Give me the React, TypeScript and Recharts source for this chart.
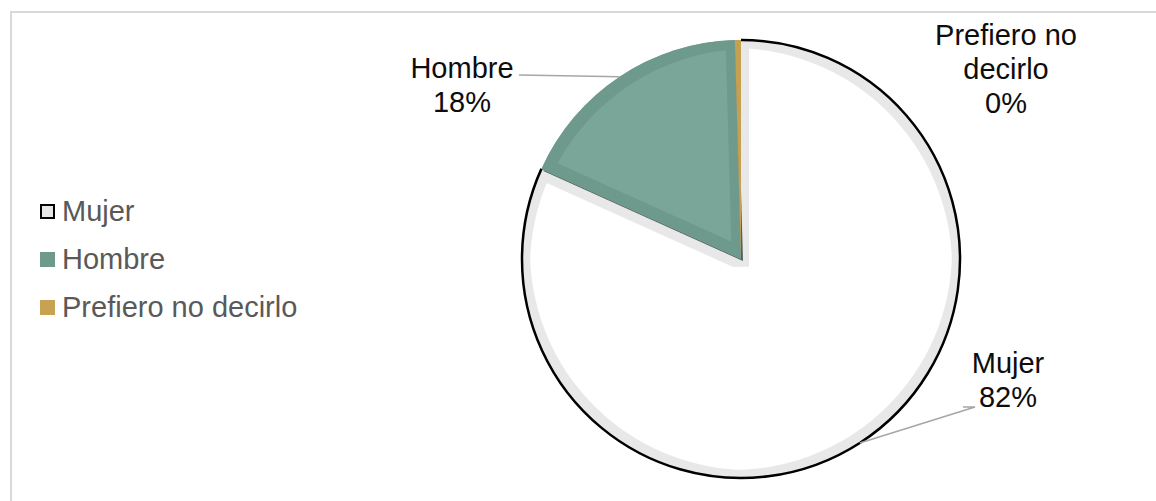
import { PieChart, Pie, Cell, Legend } from "recharts";

const categories = ["Mujer", "Hombre", "Prefiero no decirlo"];
const shares = [81.75, 17.8, 0.45];
const labelLines = [["Mujer"], ["Hombre"], ["Prefiero no", "decirlo"]];

const data = categories.map((name, i) => ({ name, value: shares[i] }));

const fills = ["#ffffff", "#7aa699", "#c5a050"];
const swatches = ["#e6e6e6", "#6e9a8d", "#c8a252"];
const filters = ["url(#bandMujer)", "url(#bandHombre)", undefined];

// label anchor offsets from the pie centre, plus leader line end points
const labelLayout = [
  { dx: 267, dy: 104, leader: [[234, 148], [222, 148]] },
  { dx: -279, dy: -191, leader: [[-222, -184]] },
  { dx: 265, dy: -224, leader: [] as number[][] },
];

const FONT = "'Liberation Sans', Arial, sans-serif";
const RAD = Math.PI / 180;

function renderLabel(props: any) {
  const { cx, cy, outerRadius, midAngle, startAngle, endAngle, percent, index } = props;
  const lay = labelLayout[index];
  const pt = (a: number) => [cx + outerRadius * Math.cos(-a * RAD), cy + outerRadius * Math.sin(-a * RAD)];
  const [ax, ay] = pt(midAngle);
  const lines = [...labelLines[index], `${Math.round(percent * 100)}%`];

  let arc = null;
  if (index === 0) {
    const [sx, sy] = pt(startAngle);
    const [ex, ey] = pt(endAngle);
    const large = Math.abs(startAngle - endAngle) > 180 ? 1 : 0;
    const sweep = startAngle > endAngle ? 1 : 0;
    arc = (
      <path
        d={`M${sx},${sy} A${outerRadius},${outerRadius} 0 ${large} ${sweep} ${ex},${ey}`}
        fill="none"
        stroke="#000"
        strokeWidth={2.5}
      />
    );
  }

  const leader = lay.leader.length
    ? "M" + [[ax - cx, ay - cy], ...lay.leader].map(([x, y]) => `${cx + x},${cy + y}`).join(" L")
    : null;

  return (
    <g>
      {arc}
      {leader && <path d={leader} fill="none" stroke="#a6a6a6" strokeWidth={1.5} />}
      <text
        x={cx + lay.dx}
        y={cy + lay.dy}
        textAnchor="middle"
        fontFamily={FONT}
        fontSize={29}
        fill="#0d0d0d"
      >
        {lines.map((l, i) => (
          <tspan key={i} x={cx + lay.dx} dy={i === 0 ? 10 : 34}>
            {l}
          </tspan>
        ))}
      </text>
    </g>
  );
}

function LegendContent() {
  return (
    <div style={{ fontFamily: FONT, fontSize: 29, color: "#595959" }}>
      {categories.map((c, i) => (
        <div key={c} style={{ display: "flex", alignItems: "center", height: 48 }}>
          <span
            style={{
              display: "inline-block",
              boxSizing: "border-box",
              width: 15,
              height: 15,
              marginRight: 7,
              background: swatches[i],
              border: i === 0 ? "2.5px solid #000" : "none",
            }}
          />
          <span>{c}</span>
        </div>
      ))}
    </div>
  );
}

export default function App() {
  return (
    <div style={{ position: "relative", width: 1156, height: 501, overflow: "hidden", background: "#fff" }}>
      <style>{"body{margin:0}"}</style>
      <svg width={0} height={0} style={{ position: "absolute" }}>
        <defs>
          <filter id="bandMujer" x="-5%" y="-5%" width="110%" height="110%">
            <feMorphology in="SourceAlpha" operator="erode" radius={8} result="inner" />
            <feFlood floodColor="#e8e8e8" result="c" />
            <feComposite in="c" in2="SourceAlpha" operator="in" result="full" />
            <feComposite in="full" in2="inner" operator="out" result="ring" />
            <feMerge>
              <feMergeNode in="SourceGraphic" />
              <feMergeNode in="ring" />
            </feMerge>
          </filter>
          <filter id="bandHombre" x="-10%" y="-10%" width="120%" height="120%">
            <feOffset in="SourceAlpha" dx={1.5} dy={1.5} result="off" />
            <feGaussianBlur in="off" stdDeviation={0.7} result="blur" />
            <feFlood floodColor="#2f3d38" floodOpacity={0.8} result="sc" />
            <feComposite in="sc" in2="blur" operator="in" result="shadow" />
            <feMorphology in="SourceAlpha" operator="erode" radius={9} result="inner" />
            <feFlood floodColor="#6e9a8d" result="c" />
            <feComposite in="c" in2="SourceAlpha" operator="in" result="full" />
            <feComposite in="full" in2="inner" operator="out" result="ring" />
            <feMerge>
              <feMergeNode in="shadow" />
              <feMergeNode in="SourceGraphic" />
              <feMergeNode in="ring" />
            </feMerge>
          </filter>
        </defs>
      </svg>
      <div
        style={{
          position: "absolute",
          left: 10,
          top: 11,
          width: 1300,
          height: 700,
          borderTop: "2px solid #d9d9d9",
          borderLeft: "2px solid #d9d9d9",
        }}
      />
      <div style={{ position: "absolute", left: 0, top: 0 }}>
        <PieChart width={1156} height={501} margin={{ top: 0, right: 0, bottom: 0, left: 0 }}>
          <Pie
            data={data}
            dataKey="value"
            nameKey="name"
            cx={741}
            cy={259}
            outerRadius={219}
            startAngle={90}
            endAngle={-270}
            stroke="none"
            label={renderLabel}
            labelLine={false}
            isAnimationActive={false}
          >
            {data.map((d, i) => (
              <Cell key={d.name} fill={fills[i]} filter={filters[i]} />
            ))}
          </Pie>
          <Legend
            content={<LegendContent />}
            wrapperStyle={{ left: 40, top: 187, width: 340, bottom: "auto" }}
          />
        </PieChart>
      </div>
    </div>
  );
}
